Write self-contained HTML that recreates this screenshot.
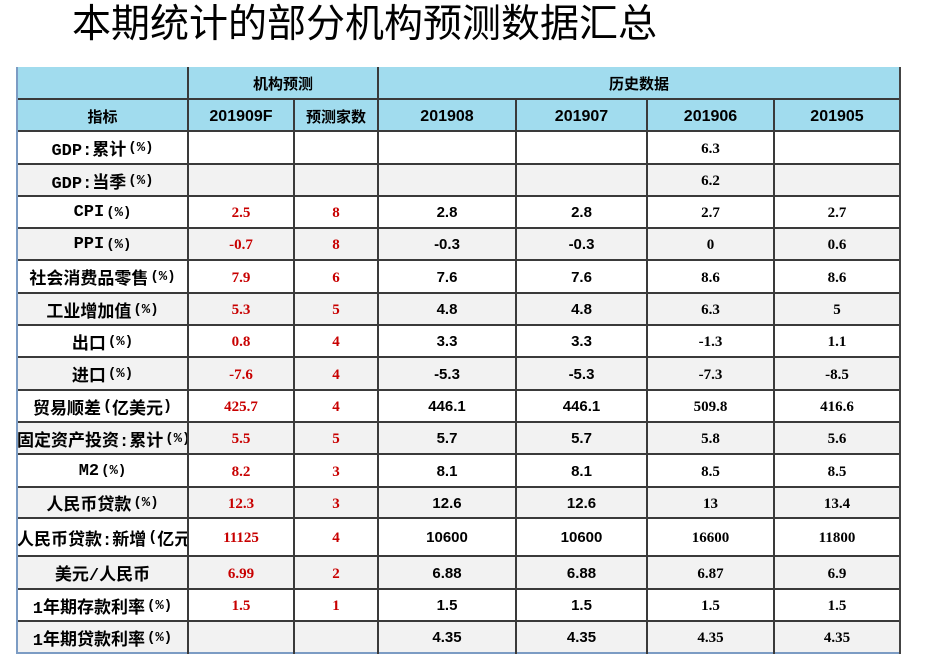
<!DOCTYPE html>
<html><head><meta charset="utf-8">
<style>
*{margin:0;padding:0;box-sizing:border-box}
body{width:926px;height:666px;background:#fff;position:relative;overflow:hidden;font-family:"Liberation Sans","Noto Sans CJK SC",sans-serif}
.title{position:absolute;left:72px;top:1px;height:48px;line-height:48px;font-size:39px;font-family:"Liberation Sans","Noto Sans CJK SC",sans-serif;color:#000;white-space:nowrap}
.r{position:absolute;left:17px;width:883px;display:flex}
.r>div{display:flex;align-items:center;justify-content:center;white-space:nowrap;overflow:hidden;flex:none;height:100%}
.c0{width:171px}.c1{width:106px}.c2{width:84px}.c3{width:138px}.c4{width:131px}.c5{width:127px}.c6{width:126px}
.g{background:#F2F2F2}
.w{background:#fff}
.hd{background:#A1DCEE}
.lab{font-weight:bold;font-size:17px;font-family:"Liberation Mono","Noto Sans CJK SC",monospace;color:#000;padding-top:1px}
.lab .p{font-size:14px;margin-left:2px}
.hc{font-weight:bold;font-size:15px;font-family:"Liberation Sans","Noto Sans CJK SC",sans-serif;color:#000}
.hn{font-weight:bold;font-size:16px;font-family:"Liberation Sans","Noto Sans CJK SC",sans-serif;color:#000;padding-top:3px}
.s{font-weight:bold;font-size:15px;font-family:"Liberation Sans",sans-serif;color:#000;padding-top:1px}
.f{font-weight:bold;font-size:15px;font-family:"Liberation Serif",serif;color:#000;padding-top:3px}
.red{color:#C80000}
.hl{position:absolute;left:17px;width:884px;height:2px;background:#3a3a3a}
.vl{position:absolute;width:2px;background:#3a3a3a}
</style></head><body>
<div class="title">本期统计的部分机构预测数据汇总</div>

<div class="r hd" style="top:67px;height:32px">
<div style="width:171px"></div>
<div class="hc" style="width:190px">机构预测</div>
<div class="hc" style="width:522px">历史数据</div>
</div>
<div class="r hd" style="top:99px;height:32px">
<div class="c0 hc" style="padding-top:3px">指标</div>
<div class="c1 hn">201909F</div>
<div class="c2 hc" style="padding-top:3px">预测家数</div>
<div class="c3 hn">201908</div>
<div class="c4 hn">201907</div>
<div class="c5 hn">201906</div>
<div class="c6 hn">201905</div>
</div>

<div class="r w" style="top:131px;height:33px">
<div class="c0 lab">GDP:累计<span class="p">(%)</span></div><div class="c1 f red"></div><div class="c2 f red"></div><div class="c3 s"></div><div class="c4 s"></div><div class="c5 f">6.3</div><div class="c6 f"></div>
</div>
<div class="r g" style="top:164px;height:32px">
<div class="c0 lab">GDP:当季<span class="p">(%)</span></div><div class="c1 f red"></div><div class="c2 f red"></div><div class="c3 s"></div><div class="c4 s"></div><div class="c5 f">6.2</div><div class="c6 f"></div>
</div>
<div class="r w" style="top:196px;height:32px">
<div class="c0 lab">CPI<span class="p">(%)</span></div><div class="c1 f red">2.5</div><div class="c2 f red">8</div><div class="c3 s">2.8</div><div class="c4 s">2.8</div><div class="c5 f">2.7</div><div class="c6 f">2.7</div>
</div>
<div class="r g" style="top:228px;height:32px">
<div class="c0 lab">PPI<span class="p">(%)</span></div><div class="c1 f red">-0.7</div><div class="c2 f red">8</div><div class="c3 s">-0.3</div><div class="c4 s">-0.3</div><div class="c5 f">0</div><div class="c6 f">0.6</div>
</div>
<div class="r w" style="top:260px;height:33px">
<div class="c0 lab">社会消费品零售<span class="p">(%)</span></div><div class="c1 f red">7.9</div><div class="c2 f red">6</div><div class="c3 s">7.6</div><div class="c4 s">7.6</div><div class="c5 f">8.6</div><div class="c6 f">8.6</div>
</div>
<div class="r g" style="top:293px;height:32px">
<div class="c0 lab">工业增加值<span class="p">(%)</span></div><div class="c1 f red">5.3</div><div class="c2 f red">5</div><div class="c3 s">4.8</div><div class="c4 s">4.8</div><div class="c5 f">6.3</div><div class="c6 f">5</div>
</div>
<div class="r w" style="top:325px;height:32px">
<div class="c0 lab">出口<span class="p">(%)</span></div><div class="c1 f red">0.8</div><div class="c2 f red">4</div><div class="c3 s">3.3</div><div class="c4 s">3.3</div><div class="c5 f">-1.3</div><div class="c6 f">1.1</div>
</div>
<div class="r g" style="top:357px;height:33px">
<div class="c0 lab">进口<span class="p">(%)</span></div><div class="c1 f red">-7.6</div><div class="c2 f red">4</div><div class="c3 s">-5.3</div><div class="c4 s">-5.3</div><div class="c5 f">-7.3</div><div class="c6 f">-8.5</div>
</div>
<div class="r w" style="top:390px;height:32px">
<div class="c0 lab">贸易顺差<span class="p" style="font-size:15px">(</span>亿美元<span class="p" style="font-size:15px;margin-left:0">)</span></div><div class="c1 f red">425.7</div><div class="c2 f red">4</div><div class="c3 s">446.1</div><div class="c4 s">446.1</div><div class="c5 f">509.8</div><div class="c6 f">416.6</div>
</div>
<div class="r g" style="top:422px;height:32px">
<div class="c0 lab" style="justify-content:flex-start">固定资产投资:累计<span class="p">(%)</span></div><div class="c1 f red">5.5</div><div class="c2 f red">5</div><div class="c3 s">5.7</div><div class="c4 s">5.7</div><div class="c5 f">5.8</div><div class="c6 f">5.6</div>
</div>
<div class="r w" style="top:454px;height:33px">
<div class="c0 lab">M2<span class="p">(%)</span></div><div class="c1 f red">8.2</div><div class="c2 f red">3</div><div class="c3 s">8.1</div><div class="c4 s">8.1</div><div class="c5 f">8.5</div><div class="c6 f">8.5</div>
</div>
<div class="r g" style="top:487px;height:31px">
<div class="c0 lab">人民币贷款<span class="p">(%)</span></div><div class="c1 f red">12.3</div><div class="c2 f red">3</div><div class="c3 s">12.6</div><div class="c4 s">12.6</div><div class="c5 f">13</div><div class="c6 f">13.4</div>
</div>
<div class="r w" style="top:518px;height:38px">
<div class="c0 lab" style="justify-content:flex-start">人民币贷款:新增<span class="p" style="font-size:15px">(</span>亿元)</div><div class="c1 f red">11125</div><div class="c2 f red">4</div><div class="c3 s">10600</div><div class="c4 s">10600</div><div class="c5 f">16600</div><div class="c6 f">11800</div>
</div>
<div class="r g" style="top:556px;height:33px">
<div class="c0 lab">美元/人民币</div><div class="c1 f red">6.99</div><div class="c2 f red">2</div><div class="c3 s">6.88</div><div class="c4 s">6.88</div><div class="c5 f">6.87</div><div class="c6 f">6.9</div>
</div>
<div class="r w" style="top:589px;height:32px">
<div class="c0 lab">1年期存款利率<span class="p">(%)</span></div><div class="c1 f red">1.5</div><div class="c2 f red">1</div><div class="c3 s">1.5</div><div class="c4 s">1.5</div><div class="c5 f">1.5</div><div class="c6 f">1.5</div>
</div>
<div class="r g" style="top:621px;height:32px">
<div class="c0 lab">1年期贷款利率<span class="p">(%)</span></div><div class="c1 f red"></div><div class="c2 f red"></div><div class="c3 s">4.35</div><div class="c4 s">4.35</div><div class="c5 f">4.35</div><div class="c6 f">4.35</div>
</div>

<div class="hl" style="top:98px"></div>
<div class="hl" style="top:130px"></div>
<div class="hl" style="top:163px"></div>
<div class="hl" style="top:195px"></div>
<div class="hl" style="top:227px"></div>
<div class="hl" style="top:259px"></div>
<div class="hl" style="top:292px"></div>
<div class="hl" style="top:324px"></div>
<div class="hl" style="top:356px"></div>
<div class="hl" style="top:389px"></div>
<div class="hl" style="top:421px"></div>
<div class="hl" style="top:453px"></div>
<div class="hl" style="top:486px"></div>
<div class="hl" style="top:517px"></div>
<div class="hl" style="top:555px"></div>
<div class="hl" style="top:588px"></div>
<div class="hl" style="top:620px"></div>
<div class="hl" style="top:652px;background:#7C9CC4"></div>

<div class="vl" style="left:187px;top:67px;height:587px"></div>
<div class="vl" style="left:293px;top:99px;height:555px"></div>
<div class="vl" style="left:377px;top:67px;height:587px"></div>
<div class="vl" style="left:515px;top:99px;height:555px"></div>
<div class="vl" style="left:646px;top:99px;height:555px"></div>
<div class="vl" style="left:773px;top:99px;height:555px"></div>
<div class="vl" style="left:899px;top:67px;height:587px;background:#444"></div>
<div class="vl" style="left:16px;top:67px;height:587px;background:#7C9CC4"></div>
</body></html>
